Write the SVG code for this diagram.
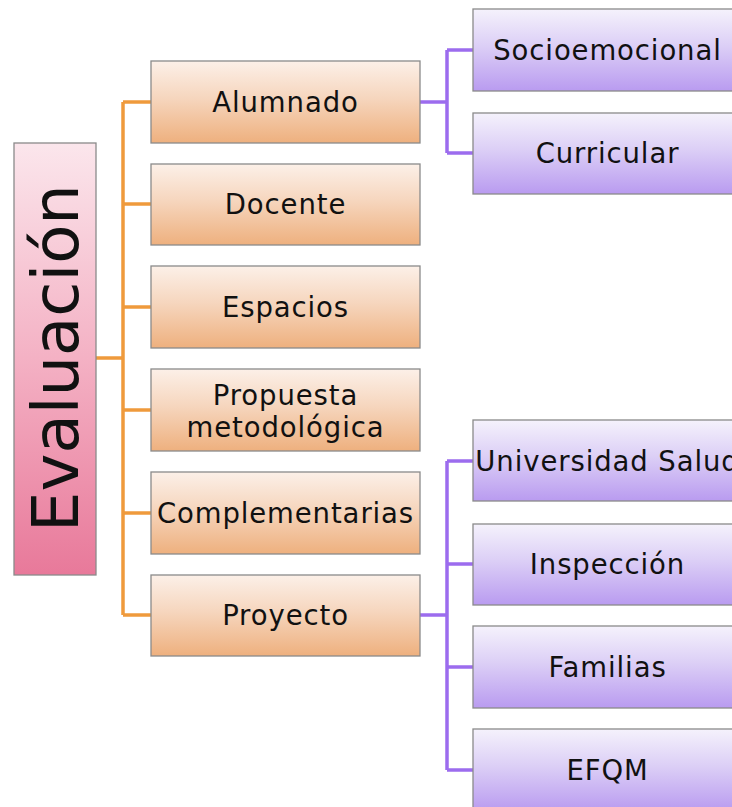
<svg xmlns="http://www.w3.org/2000/svg" width="732" height="807" viewBox="0 0 732 807">
<defs>
<linearGradient id="gRoot" x1="0" y1="0" x2="0" y2="1"><stop offset="0" stop-color="#fbe6ec"/><stop offset="0.5" stop-color="#f4b1c4"/><stop offset="1" stop-color="#e8799a"/></linearGradient>
<linearGradient id="gOr" x1="0" y1="0" x2="0" y2="1"><stop offset="0" stop-color="#fcf0e8"/><stop offset="0.45" stop-color="#f6d6be"/><stop offset="1" stop-color="#eeb07e"/></linearGradient>
<linearGradient id="gPu" x1="0" y1="0" x2="0" y2="1"><stop offset="0" stop-color="#f5f2fc"/><stop offset="0.45" stop-color="#dccff6"/><stop offset="1" stop-color="#b99bf0"/></linearGradient>
</defs>
<style>
.box{stroke:#8a8a8a;stroke-width:1.3}
.or{fill:url(#gOr)}
.pu{fill:url(#gPu)}
.t{font-family:"DejaVu Sans","Liberation Sans",sans-serif;font-size:27.5px;letter-spacing:0.9px;fill:#111;text-anchor:middle}
.co{fill:none;stroke:#ef9a3c;stroke-width:3.5}
.cp{fill:none;stroke:#9c6cee;stroke-width:3.5}
</style>
<g id="connectors">
<path class="co" d="M96 358H123M123 102V615M123 102H151M123 204H151M123 307H151M123 410H151M123 513H151M123 615H151"/>
<path class="cp" d="M420 102H447M447 50V153M447 50H473M447 153H473"/>
<path class="cp" d="M420 615H447M447 461V770M447 461H473M447 564H473M447 667H473M447 770H473"/>
</g>
<g id="root"><rect class="box" x="14" y="143" width="82" height="432" fill="url(#gRoot)"/>
<text transform="translate(78,358) rotate(-90)" font-family="DejaVu Sans,sans-serif" font-size="64" fill="#111" text-anchor="middle">Evaluación</text></g>
<g id="alumnado"><rect class="box or" x="151" y="61" width="269" height="82"/><text class="t" x="285.5" y="112">Alumnado</text></g>
<g id="docente"><rect class="box or" x="151" y="164" width="269" height="81"/><text class="t" x="285.5" y="214">Docente</text></g>
<g id="espacios"><rect class="box or" x="151" y="266" width="269" height="82"/><text class="t" x="285.5" y="317">Espacios</text></g>
<g id="propuesta"><rect class="box or" x="151" y="369" width="269" height="82"/><text class="t" x="285.5" y="405">Propuesta</text><text class="t" x="285.5" y="437">metodológica</text></g>
<g id="complementarias"><rect class="box or" x="151" y="472" width="269" height="82"/><text class="t" x="285.5" y="523">Complementarias</text></g>
<g id="proyecto"><rect class="box or" x="151" y="575" width="269" height="81"/><text class="t" x="285.5" y="625">Proyecto</text></g>
<g id="socioemocional"><rect class="box pu" x="473" y="9" width="269" height="82"/><text class="t" x="607.5" y="60">Socioemocional</text></g>
<g id="curricular"><rect class="box pu" x="473" y="113" width="269" height="81"/><text class="t" x="607.5" y="163">Curricular</text></g>
<g id="universidad"><rect class="box pu" x="473" y="420" width="269" height="81"/><text class="t" x="607.5" y="471">Universidad Salud</text></g>
<g id="inspeccion"><rect class="box pu" x="473" y="524" width="269" height="81"/><text class="t" x="607.5" y="574">Inspección</text></g>
<g id="familias"><rect class="box pu" x="473" y="626" width="269" height="82"/><text class="t" x="607.5" y="677">Familias</text></g>
<g id="efqm"><rect class="box pu" x="473" y="729" width="269" height="82"/><text class="t" x="607.5" y="780">EFQM</text></g>
</svg>
